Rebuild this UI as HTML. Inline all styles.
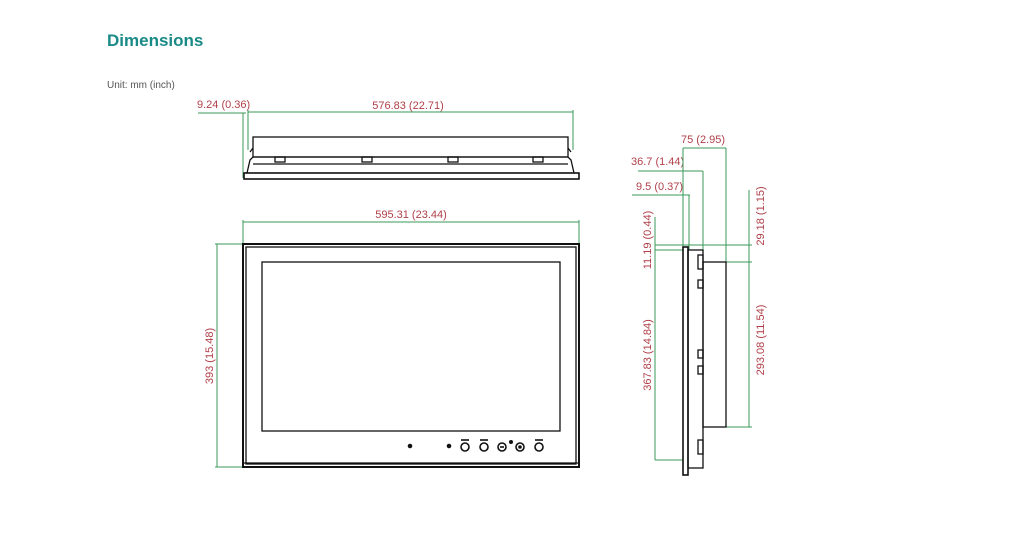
<!DOCTYPE html>
<html><head><meta charset="utf-8"><style>
html,body{margin:0;padding:0;background:#fff;width:1024px;height:538px;overflow:hidden}
svg{position:absolute;left:0;top:0}
</style></head><body>
<svg width="1024" height="538" viewBox="0 0 1024 538" xmlns="http://www.w3.org/2000/svg">
<text x="107" y="46" font-family="Liberation Sans, sans-serif" font-weight="bold" font-size="17" fill="#1a8a87">Dimensions</text>
<text x="107" y="88" font-family="Liberation Sans, sans-serif" font-size="10" fill="#555">Unit: mm (inch)</text>

<g font-family="Liberation Sans, sans-serif" font-size="11" fill="#b0404a">
<text x="408" y="109" text-anchor="middle">576.83 (22.71)</text>
<text x="197" y="108">9.24 (0.36)</text>
<text x="411" y="218" text-anchor="middle">595.31 (23.44)</text>
<text transform="translate(213,356) rotate(-90)" text-anchor="middle">393 (15.48)</text>
<text x="703" y="143" text-anchor="middle">75 (2.95)</text>
<text x="631" y="165">36.7 (1.44)</text>
<text x="636" y="190">9.5 (0.37)</text>
<text transform="translate(651,240) rotate(-90)" text-anchor="middle">11.19 (0.44)</text>
<text transform="translate(651,355) rotate(-90)" text-anchor="middle">367.83 (14.84)</text>
<text transform="translate(764,216) rotate(-90)" text-anchor="middle">29.18 (1.15)</text>
<text transform="translate(764,340) rotate(-90)" text-anchor="middle">293.08 (11.54)</text>
</g>

<g stroke="#3a9a5a" stroke-width="1" fill="none">
<line x1="248" y1="112" x2="573" y2="112"/>
<line x1="198" y1="113" x2="246" y2="113"/>
<line x1="243" y1="113" x2="243" y2="178"/>
<line x1="248" y1="110" x2="248" y2="150"/>
<line x1="573" y1="110" x2="573" y2="150"/>
<line x1="243" y1="222" x2="579" y2="222"/>
<line x1="243" y1="220" x2="243" y2="244"/>
<line x1="579" y1="220" x2="579" y2="244"/>
<line x1="217" y1="244" x2="217" y2="467"/>
<line x1="215" y1="244" x2="243" y2="244"/>
<line x1="215" y1="467" x2="243" y2="467"/>
<line x1="683" y1="148" x2="726" y2="148"/>
<line x1="683" y1="148" x2="683" y2="247"/>
<line x1="726" y1="148" x2="726" y2="262"/>
<line x1="638" y1="171" x2="703" y2="171"/>
<line x1="703" y1="171" x2="703" y2="250"/>
<line x1="632" y1="195" x2="690" y2="195"/>
<line x1="689" y1="195" x2="689" y2="250"/>
<line x1="655" y1="217" x2="655" y2="460"/>
<line x1="655" y1="245" x2="752" y2="245"/>
<line x1="655" y1="250" x2="683" y2="250"/>
<line x1="655" y1="460" x2="683" y2="460"/>
<line x1="749" y1="190" x2="749" y2="427"/>
<line x1="726" y1="262" x2="752" y2="262"/>
<line x1="726" y1="427" x2="752" y2="427"/>
</g>

<g stroke="#111" stroke-width="1.3" fill="none">
<rect x="253" y="137" width="315" height="20"/>
<path d="M250 152 L253 148 M571 152 L568 148"/>
<polyline points="247,173 250,160 253,157 568,157 571,160 574,173"/>
<line x1="253" y1="164" x2="568" y2="164"/>
<rect x="275" y="157" width="10" height="5"/>
<rect x="362" y="157" width="10" height="5"/>
<rect x="448" y="157" width="10" height="5"/>
<rect x="533" y="157" width="10" height="5"/>
<rect x="244" y="173" width="335" height="6" stroke-width="1.6"/>
<rect x="243" y="244" width="336" height="223" stroke-width="2"/>
<rect x="246" y="247" width="330" height="217"/>
<rect x="262" y="262" width="298" height="169"/>
<line x1="243" y1="463" x2="579" y2="463"/>
<rect x="683" y="247" width="5" height="228" stroke-width="1.6"/>
<rect x="688" y="250" width="15" height="218"/>
<rect x="703" y="262" width="23" height="165"/>
<rect x="698" y="255" width="5" height="14"/>
<rect x="698" y="280" width="5" height="8"/>
<rect x="698" y="350" width="5" height="8"/>
<rect x="698" y="366" width="5" height="8"/>
<rect x="698" y="440" width="5" height="14"/>
</g>
<g stroke="#111" stroke-width="1.6" fill="none">
<circle cx="410" cy="446" r="1.5" fill="#111"/>
<circle cx="449" cy="446" r="1.5" fill="#111"/>
<circle cx="465" cy="447" r="4"/><line x1="461" y1="440" x2="469" y2="440"/>
<circle cx="484" cy="447" r="4"/><line x1="480" y1="440" x2="488" y2="440"/>
<circle cx="502" cy="447" r="4"/><line x1="500" y1="447" x2="504" y2="447"/>
<circle cx="511" cy="442" r="1.2" fill="#111"/>
<circle cx="520" cy="447" r="4"/><circle cx="520" cy="447" r="1" fill="#111"/>
<circle cx="539" cy="447" r="4"/><line x1="535" y1="440" x2="543" y2="440"/>
</g>
</svg>
</body></html>
